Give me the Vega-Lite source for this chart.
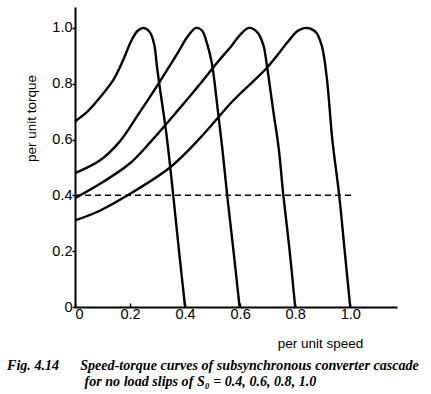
{
  "$schema": "https://vega.github.io/schema/vega-lite/v6.json",
  "width": 322,
  "height": 300,
  "autosize": {"type": "none"},
  "padding": {"left": 75, "top": 7, "right": 34, "bottom": 87},
  "background": "white",
  "config": {"view": {"stroke": null}},
  "title": {
    "text": [
      "Fig. 4.14\u00a0\u00a0\u00a0\u00a0\u00a0\u00a0Speed-torque curves of subsynchronous converter cascade",
      "\u200b\u00a0\u00a0\u00a0\u00a0\u00a0\u00a0\u00a0\u00a0\u00a0\u00a0\u00a0\u00a0\u00a0\u00a0\u00a0\u00a0\u00a0\u00a0\u00a0\u00a0\u00a0\u00a0for no load slips of S\u2080 = 0.4, 0.6, 0.8, 1.0"
    ],
    "orient": "bottom",
    "anchor": "start",
    "frame": "group",
    "dx": -68,
    "offset": 9,
    "font": "Liberation Serif",
    "fontSize": 14.1,
    "fontStyle": "italic",
    "fontWeight": "bold",
    "color": "black",
    "lineHeight": 16.5
  },
  "layer": [
    {
      "data": {"values": [
        {"s0": "0.4", "speed": 0, "torque": 0.665},
        {"s0": "0.4", "speed": 0.045, "torque": 0.70},
        {"s0": "0.4", "speed": 0.09, "torque": 0.75},
        {"s0": "0.4", "speed": 0.14, "torque": 0.815},
        {"s0": "0.4", "speed": 0.175, "torque": 0.885},
        {"s0": "0.4", "speed": 0.205, "torque": 0.955},
        {"s0": "0.4", "speed": 0.228, "torque": 0.99},
        {"s0": "0.4", "speed": 0.25, "torque": 1.0},
        {"s0": "0.4", "speed": 0.272, "torque": 0.985},
        {"s0": "0.4", "speed": 0.288, "torque": 0.94},
        {"s0": "0.4", "speed": 0.298, "torque": 0.86},
        {"s0": "0.4", "speed": 0.309, "torque": 0.78},
        {"s0": "0.4", "speed": 0.32, "torque": 0.706},
        {"s0": "0.4", "speed": 0.334, "torque": 0.605},
        {"s0": "0.4", "speed": 0.357, "torque": 0.40},
        {"s0": "0.4", "speed": 0.378, "torque": 0.2},
        {"s0": "0.4", "speed": 0.40, "torque": 0.0},
        {"s0": "0.6", "speed": 0, "torque": 0.48},
        {"s0": "0.6", "speed": 0.09, "torque": 0.525},
        {"s0": "0.6", "speed": 0.16, "torque": 0.59},
        {"s0": "0.6", "speed": 0.23, "torque": 0.69},
        {"s0": "0.6", "speed": 0.30, "torque": 0.795},
        {"s0": "0.6", "speed": 0.37, "torque": 0.905},
        {"s0": "0.6", "speed": 0.41, "torque": 0.97},
        {"s0": "0.6", "speed": 0.44, "torque": 1.0},
        {"s0": "0.6", "speed": 0.462, "torque": 0.99},
        {"s0": "0.6", "speed": 0.478, "torque": 0.95},
        {"s0": "0.6", "speed": 0.497, "torque": 0.875},
        {"s0": "0.6", "speed": 0.516, "torque": 0.73},
        {"s0": "0.6", "speed": 0.535, "torque": 0.57},
        {"s0": "0.6", "speed": 0.553, "torque": 0.40},
        {"s0": "0.6", "speed": 0.576, "torque": 0.2},
        {"s0": "0.6", "speed": 0.598, "torque": 0.0},
        {"s0": "0.8", "speed": 0, "torque": 0.39},
        {"s0": "0.8", "speed": 0.10, "torque": 0.447},
        {"s0": "0.8", "speed": 0.20, "torque": 0.515},
        {"s0": "0.8", "speed": 0.273, "torque": 0.59},
        {"s0": "0.8", "speed": 0.37, "torque": 0.70},
        {"s0": "0.8", "speed": 0.455, "torque": 0.80},
        {"s0": "0.8", "speed": 0.52, "torque": 0.88},
        {"s0": "0.8", "speed": 0.564, "torque": 0.93},
        {"s0": "0.8", "speed": 0.60, "torque": 0.975},
        {"s0": "0.8", "speed": 0.632, "torque": 1.0},
        {"s0": "0.8", "speed": 0.662, "torque": 0.985},
        {"s0": "0.8", "speed": 0.684, "torque": 0.94},
        {"s0": "0.8", "speed": 0.698, "torque": 0.86},
        {"s0": "0.8", "speed": 0.72, "torque": 0.706},
        {"s0": "0.8", "speed": 0.74, "torque": 0.57},
        {"s0": "0.8", "speed": 0.757, "torque": 0.40},
        {"s0": "0.8", "speed": 0.78, "torque": 0.2},
        {"s0": "0.8", "speed": 0.80, "torque": 0.0},
        {"s0": "1.0", "speed": 0, "torque": 0.31},
        {"s0": "1.0", "speed": 0.09, "torque": 0.345},
        {"s0": "1.0", "speed": 0.18, "torque": 0.394},
        {"s0": "1.0", "speed": 0.345, "torque": 0.50},
        {"s0": "1.0", "speed": 0.455, "torque": 0.606},
        {"s0": "1.0", "speed": 0.575, "torque": 0.74},
        {"s0": "1.0", "speed": 0.70, "torque": 0.86},
        {"s0": "1.0", "speed": 0.775, "torque": 0.952},
        {"s0": "1.0", "speed": 0.81, "torque": 0.99},
        {"s0": "1.0", "speed": 0.843, "torque": 1.0},
        {"s0": "1.0", "speed": 0.875, "torque": 0.985},
        {"s0": "1.0", "speed": 0.897, "torque": 0.935},
        {"s0": "1.0", "speed": 0.915, "torque": 0.82},
        {"s0": "1.0", "speed": 0.935, "torque": 0.6},
        {"s0": "1.0", "speed": 0.96, "torque": 0.40},
        {"s0": "1.0", "speed": 0.98, "torque": 0.2},
        {"s0": "1.0", "speed": 1.0, "torque": 0.0}
      ]},
      "mark": {"type": "line", "interpolate": "catmull-rom", "color": "black", "strokeWidth": 2.4},
      "encoding": {
        "x": {
          "field": "speed", "type": "quantitative",
          "scale": {"domain": [0, 1.17], "nice": false, "zero": false},
          "axis": {
            "title": "per unit speed",
            "values": [0, 0.2, 0.4, 0.6, 0.8, 1.0],
            "labelExpr": "datum.value == 0 ? '0' : format(datum.value, '.1f')",
            "grid": false,
            "domainColor": "black", "domainWidth": 2,
            "tickColor": "black", "tickSize": -4, "tickWidth": 1.5,
            "labelFont": "Liberation Sans", "labelFontSize": 14.5, "labelColor": "black",
            "labelPadding": 4,
            "titleFont": "Liberation Sans", "titleFontSize": 13.5, "titleFontWeight": "normal", "titleColor": "black",
            "titleAnchor": "start", "titleAlign": "center", "titleX": 245, "titleY": 40, "titleBaseline": "alphabetic"
          }
        },
        "y": {
          "field": "torque", "type": "quantitative",
          "scale": {"domain": [0, 1.075], "nice": false, "zero": false},
          "axis": {
            "title": "per unit torque",
            "values": [0, 0.2, 0.4, 0.6, 0.8, 1.0],
            "labelExpr": "datum.value == 0 ? '0' : format(datum.value, '.1f')",
            "grid": false,
            "domainColor": "black", "domainWidth": 2,
            "tickColor": "black", "tickSize": 3, "tickWidth": 1.5,
            "labelFont": "Liberation Sans", "labelFontSize": 14.5, "labelColor": "black",
            "labelPadding": 0,
            "titleFont": "Liberation Sans", "titleFontSize": 13.5, "titleFontWeight": "normal", "titleColor": "black",
            "titleAnchor": "start", "titleAlign": "center", "titleX": -40, "titleY": 111, "titleBaseline": "alphabetic", "titleAngle": 270
          }
        },
        "detail": {"field": "s0", "type": "nominal"}
      }
    },
    {
      "data": {"values": [
        {"speed": 0, "torque": 0.4},
        {"speed": 1.01, "torque": 0.4}
      ]},
      "mark": {"type": "line", "color": "black", "strokeWidth": 1.5, "strokeDash": [6, 4]},
      "encoding": {
        "x": {"field": "speed", "type": "quantitative"},
        "y": {"field": "torque", "type": "quantitative"}
      }
    }
  ]
}
